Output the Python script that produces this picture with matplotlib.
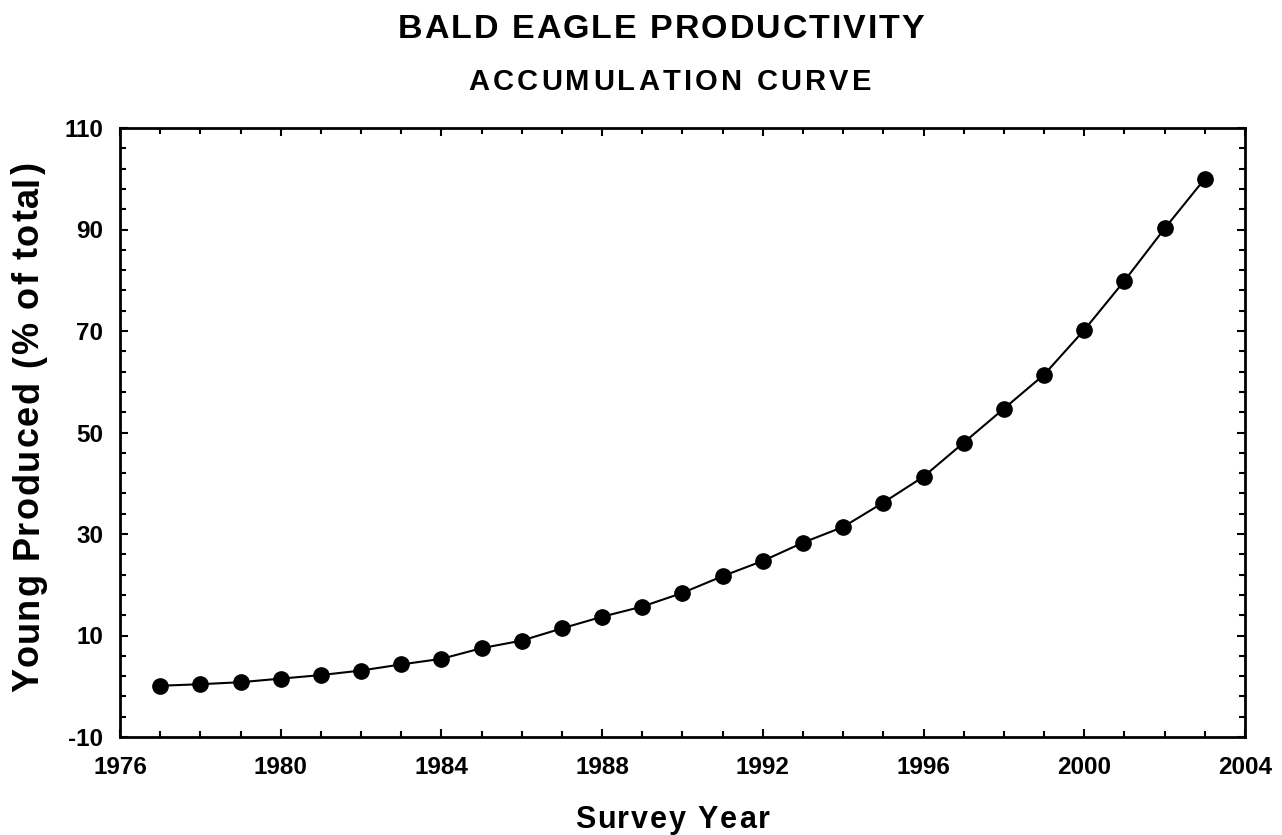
import matplotlib.pyplot as plt
from matplotlib.ticker import FixedLocator
from matplotlib.font_manager import FontProperties
from matplotlib.transforms import IdentityTransform
import numpy as np

plt.rcParams['font.family'] = ['Liberation Sans', 'DejaVu Sans']
plt.rcParams['font.weight'] = 'bold'
plt.rcParams['axes.unicode_minus'] = False

# dados
anos = [1977, 1978, 1979, 1980, 1981, 1982, 1983, 1984, 1985, 1986,
        1987, 1988, 1989, 1990, 1991, 1992, 1993, 1994, 1995, 1996,
        1997, 1998, 1999, 2000, 2001, 2002, 2003]
acumulado = [0.1, 0.4, 0.8, 1.5, 2.2, 3.1, 4.3, 5.4, 7.5, 9.0,
             11.4, 13.7, 15.7, 18.4, 21.7, 24.7, 28.3, 31.4, 36.2, 41.3,
             48.0, 54.7, 61.4, 70.2, 79.9, 90.2, 100.0]

titulo = 'BALD EAGLE PRODUCTIVITY'
subtitulo = 'ACCUMULATION CURVE'
rotulo_x = 'Survey Year'
rotulo_y = 'Young Produced (% of total)'

fig = plt.figure(figsize=(12.82, 8.35), dpi=100)
ax = fig.add_axes([120 / 1282, 1 - 737 / 835, 1125 / 1282, 609 / 835])

ax.plot(anos, acumulado, color='black', lw=1.5, marker='o', markersize=11)

ax.set_xlim(1976, 2004)
ax.set_ylim(-10, 110)
ax.xaxis.set_major_locator(FixedLocator(np.arange(1976, 2005, 4)))
ax.xaxis.set_minor_locator(FixedLocator(np.arange(1976, 2005, 1)))
ax.yaxis.set_major_locator(FixedLocator(np.arange(-10, 111, 20)))
ax.yaxis.set_minor_locator(FixedLocator(np.arange(-10, 111, 4)))
ax.tick_params(which='both', direction='in', top=True, right=True, width=1.5)
ax.tick_params(which='major', length=6, labelsize=17.5)
ax.tick_params(which='minor', length=4)
ax.tick_params(axis='y', pad=12)
ax.tick_params(axis='x', pad=14)
for s in ax.spines.values():
    s.set_linewidth(2)


# texto com espacamento entre letras (coordenadas em pixels da figura)
def texto_espacado(x, y, s, fs, esp, vertical=False):
    fp = FontProperties(family=['Liberation Sans', 'DejaVu Sans'], weight='bold', size=fs)
    r = fig.canvas.get_renderer()
    ref = r.get_text_width_height_descent('|', fp, ismath=False)[0]
    larg = [r.get_text_width_height_descent(c + '|', fp, ismath=False)[0] - ref for c in s]
    total = sum(larg) + esp * (len(s) - 1)
    if vertical:
        p = y - total / 2
    else:
        p = x - total / 2
    for c, w in zip(s, larg):
        if vertical:
            fig.text(x, p, c, transform=IdentityTransform(), fontproperties=fp,
                     ha='left', va='baseline', rotation=90, rotation_mode='anchor')
        else:
            fig.text(p, y, c, transform=IdentityTransform(), fontproperties=fp,
                     ha='left', va='baseline')
        p += w + esp


texto_espacado(661, 835 - 37.5, titulo, 24.5, 2.0)
texto_espacado(670, 835 - 90, subtitulo, 21, 3.2)
texto_espacado(672, 835 - 828, rotulo_x, 22, 1.8)
texto_espacado(38, 835 - 427, rotulo_y, 26, 1.7, vertical=True)

fig.savefig('out.png', dpi=100)
